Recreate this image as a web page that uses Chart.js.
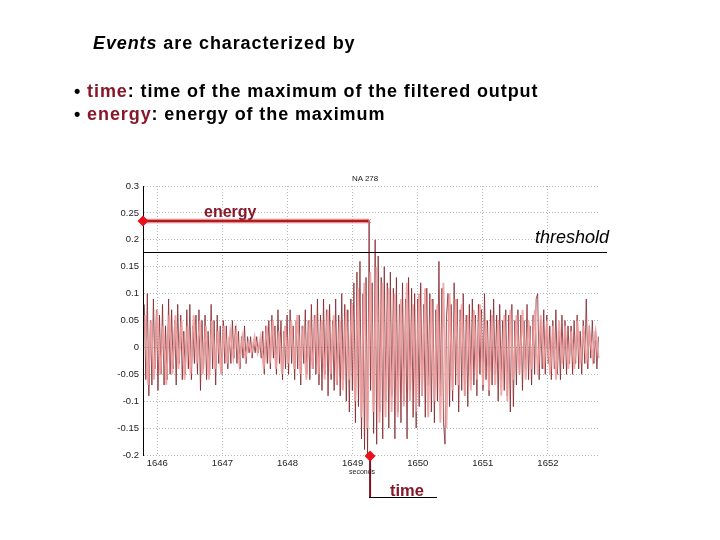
<!DOCTYPE html>
<html>
<head>
<meta charset="utf-8">
<script src="https://cdn.jsdelivr.net/npm/chart.js@4/dist/chart.umd.min.js"></script>
<style>
  html, body { margin:0; padding:0; background:#fff; }
  #wrap { position:relative; width:720px; height:540px; overflow:hidden; font-family:'Liberation Sans', Arial, sans-serif; }
  #c { position:absolute; left:0; top:0; }
  .t { position:absolute; white-space:nowrap; line-height:1; }
  .h { font-size:18px; font-weight:bold; letter-spacing:0.9px; }
  .red { color:#86182a; }
</style>
</head>
<body>
<div id="wrap">
  <canvas id="c" width="720" height="540"></canvas>
  <div class="t h" style="left:93px; top:34px;"><i>Events</i> are characterized by</div>
  <div class="t h" style="left:74px; top:82px;">• <span class="red">time</span>: time of the maximum of the filtered output</div>
  <div class="t h" style="left:74px; top:105px;">• <span class="red">energy</span>: energy of the maximum</div>
  <div class="t" style="left:352px; top:175px; font-size:8px; color:#222;">NA 278</div>
  <div class="t" style="left:349px; top:468px; font-size:7px; color:#222;">seconds</div>
  <div class="t red" style="left:204px; top:204px; font-size:16px; font-weight:bold;">energy</div>
  <div class="t" style="left:535px; top:228px; font-size:18px; font-style:italic;">threshold</div>
  <div class="t red" style="left:390px; top:482px; font-size:16.5px; font-weight:bold;">time</div>
</div>
<script>
// ---- data ----
const chartTitle = "NA 278";
const xLabel = "seconds";
const t0 = 1645.8;          // time of the first dark sample (s)
const dtDark = 0.02333;     // sampling step of the dark trace (s)
const darkValues = [
  0.08,-0.06,0.10,-0.09,0.05,-0.07,0.09,-0.04,0.07,-0.08,0.06,-0.05,0.08,-0.07,0.04,-0.06,0.09,-0.05,
  0.07,-0.04,0.05,-0.07,0.08,-0.03,0.06,-0.06,0.03,-0.05,0.07,-0.04,0.08,-0.06,0.04,-0.03,0.06,-0.05,0.07,-0.08,0.05,-0.04,0.06,-0.06,0.03,-0.05,0.08,-0.04,0.05,-0.07,0.06,-0.03,0.04,-0.05,
  0.05,-0.03,0.04,-0.04,0.02,-0.03,0.05,-0.02,0.04,-0.03,0.03,-0.04,0.02,-0.02,0.04,-0.03,0.02,
  -0.01,0.02,-0.02,0.01,-0.01,0.02,-0.01,0.01,-0.02,
  0.03,-0.05,0.04,-0.03,0.05,-0.04,0.06,-0.02,0.04,-0.05,0.07,-0.03,0.05,-0.06,0.03,-0.04,0.06,-0.05,0.07,-0.03,0.04,-0.06,0.05,-0.04,0.06,-0.07,0.04,-0.03,0.07,-0.05,0.05,-0.06,0.08,-0.04,0.06,-0.05,0.09,-0.07,
  0.06,-0.08,0.09,-0.05,0.07,-0.09,0.08,-0.06,0.05,-0.08,0.09,-0.07,0.06,-0.09,0.10,-0.06,0.08,-0.10,0.07,-0.12,0.09,-0.08,
  0.12,-0.14,0.14,-0.11,0.16,-0.17,0.10,-0.19,0.13,-0.20,
  0.235,
  -0.08,0.12,-0.16,0.20,-0.18,0.17,-0.12,0.13,-0.17,0.15,-0.10,0.12,
  -0.15,0.14,-0.09,0.11,-0.17,0.13,-0.12,0.08,-0.14,0.12,-0.10,0.09,-0.17,0.13,-0.08,0.11,-0.13,0.10,-0.15,0.09,-0.11,0.12,-0.09,0.08,-0.13,0.11,-0.07,0.10,-0.12,0.09,-0.14,0.07,-0.10,0.16,
  -0.09,0.11,-0.14,-0.18,0.06,0.10,-0.11,0.08,-0.10,0.12,-0.07,0.09,-0.12,0.07,-0.08,0.10,-0.09,0.06,-0.11,0.08,-0.06,
  0.09,-0.07,0.06,-0.09,0.08,-0.05,0.07,-0.08,0.10,-0.06,0.05,-0.09,0.07,-0.07,0.09,-0.05,0.06,-0.10,0.08,-0.06,0.05,-0.08,0.07,-0.09,0.06,-0.12,0.08,-0.11,0.05,-0.07,
  0.07,-0.05,0.06,-0.08,0.05,-0.04,0.08,-0.06,0.04,-0.07,0.06,-0.05,0.09,0.10,-0.06,0.05,-0.04,0.07,-0.05,0.06,-0.03,0.04,-0.06,0.05,-0.04,0.07,-0.05,0.03,-0.06,0.06,-0.04,0.05,-0.05,0.04,-0.03,
  0.04,-0.05,0.05,-0.03,0.06,-0.04,0.03,-0.05,0.05,-0.03,0.09,-0.04,0.04,-0.02,0.05,-0.03,0.03,-0.04,0.02
];
const dtLight = 0.04678;    // sampling step of the light trace (s)
const lightValues = [
  0.06,-0.07,0.05,-0.06,0.07,-0.05,0.04,-0.07,0.06,
  -0.05,0.06,-0.04,0.05,-0.06,0.04,-0.05,0.06,-0.03,0.05,-0.05,0.04,-0.06,0.05,-0.04,0.03,-0.05,
  0.04,-0.03,0.03,-0.02,0.03,-0.03,0.02,-0.02,0.01,-0.01,0.02,-0.01,0.02,
  -0.04,0.04,-0.03,0.05,-0.04,0.03,-0.05,0.04,-0.03,0.05,-0.04,0.06,-0.05,0.04,-0.06,0.05,-0.04,0.06,-0.05,
  0.05,-0.06,0.07,-0.05,0.06,-0.07,0.05,-0.08,0.07,-0.06,0.08,
  -0.10,0.11,-0.13,0.12,-0.15,0.14,-0.12,0.15,-0.14,0.12,-0.13,
  0.11,-0.12,0.10,-0.13,0.09,-0.11,0.12,-0.10,0.08,-0.12,0.10,-0.09,0.11,-0.13,0.09,-0.10,0.08,-0.14,0.12,-0.15,0.10,
  -0.08,0.09,-0.07,0.08,-0.09,0.06,-0.08,0.07,-0.06,0.08,-0.07,0.05,-0.08,0.06,-0.07,0.05,-0.09,0.06,-0.10,0.07,-0.06,
  0.06,-0.05,0.07,-0.06,0.05,-0.04,0.07,-0.05,0.06,-0.04,0.05,-0.05,0.04,-0.06,0.05,-0.03,0.04,
  -0.04,0.03,-0.04,0.05,-0.03,0.04,-0.03,0.03,-0.02,0.03,-0.02
];
const threshold = 0.177;
const xTicks = [1646, 1647, 1648, 1649, 1650, 1651, 1652];
const yTicks = [-0.2, -0.15, -0.1, -0.05, 0, 0.05, 0.1, 0.15, 0.2, 0.25, 0.3];
const xRange = [1645.78, 1652.8];
const yRange = [-0.2, 0.3];

// ---- build chart ----
const darkPts = darkValues.map((v, i) => ({ x: t0 + i * dtDark, y: v }));
const lightPts = lightValues.map((v, i) => ({ x: t0 + 0.01 + i * dtLight, y: v }));
let maxIdx = 0;
darkValues.forEach((v, i) => { if (v > darkValues[maxIdx]) maxIdx = i; });
const eventTime = darkPts[maxIdx].x;
const eventEnergy = darkPts[maxIdx].y;

function diamond(ctx, x, y, r, color) {
  ctx.beginPath();
  ctx.moveTo(x, y - r); ctx.lineTo(x + r, y); ctx.lineTo(x, y + r); ctx.lineTo(x - r, y);
  ctx.closePath(); ctx.fillStyle = color; ctx.fill();
}

const annot = {
  id: 'annot',
  afterDatasetsDraw(chart) {
    const { ctx, chartArea: ca, scales: { x, y } } = chart;
    const xe = x.getPixelForValue(eventTime);
    const ye = y.getPixelForValue(eventEnergy);
    const yt = y.getPixelForValue(threshold);
    ctx.save();
    ctx.strokeStyle = '#000'; ctx.lineWidth = 1;
    ctx.beginPath(); ctx.moveTo(ca.left, Math.round(yt) + 0.5); ctx.lineTo(ca.right + 7, Math.round(yt) + 0.5); ctx.stroke();
    ctx.strokeStyle = 'rgba(235,130,130,0.55)'; ctx.lineWidth = 5;
    ctx.beginPath(); ctx.moveTo(ca.left, ye); ctx.lineTo(xe, ye); ctx.stroke();
    ctx.strokeStyle = '#b01c22'; ctx.lineWidth = 2.5;
    ctx.beginPath(); ctx.moveTo(ca.left, ye); ctx.lineTo(xe, ye); ctx.stroke();
    diamond(ctx, ca.left, ye, 5.5, '#e8101a');
    ctx.strokeStyle = 'rgba(220,110,110,0.8)'; ctx.lineWidth = 1;
    ctx.beginPath(); ctx.moveTo(xe - 2, ye - 2); ctx.lineTo(xe + 2, ye + 2); ctx.moveTo(xe + 2, ye - 2); ctx.lineTo(xe - 2, ye + 2); ctx.stroke();
    const yb = ca.bottom + 1;
    ctx.strokeStyle = '#7a1020'; ctx.lineWidth = 2;
    ctx.beginPath(); ctx.moveTo(xe + 1, yb); ctx.lineTo(xe + 1, yb + 42); ctx.stroke();
    ctx.strokeStyle = '#000'; ctx.lineWidth = 1;
    ctx.beginPath(); ctx.moveTo(xe, yb + 41.5); ctx.lineTo(xe + 68, yb + 41.5); ctx.stroke();
    diamond(ctx, xe + 1, yb, 5.5, '#e8101a');
    ctx.restore();
  }
};

const fmt = v => String(+Number(v).toFixed(2));

new Chart(document.getElementById('c'), {
  type: 'line',
  data: {
    datasets: [
      { data: lightPts, borderColor: 'rgba(240,160,160,0.9)', borderWidth: 1.8, pointRadius: 0, tension: 0 },
      { data: darkPts, borderColor: 'rgba(130,38,44,0.8)', borderWidth: 1, pointRadius: 0, tension: 0 }
    ]
  },
  options: {
    responsive: false,
    animation: false,
    layout: { padding: { left: 103, top: 186, right: 120, bottom: 55 } },
    plugins: { legend: { display: false }, tooltip: { enabled: false } },
    scales: {
      x: {
        type: 'linear', min: xRange[0], max: xRange[1],
        afterFit: s => { s.height = 30; },
        afterBuildTicks: s => { s.ticks = xTicks.map(v => ({ value: v })); },
        grid: { color: '#b8b8b8', lineWidth: 1, drawTicks: false },
        border: { display: false, dash: [1, 2] },
        ticks: { padding: 3, color: '#222', font: { family: "'Liberation Sans', Arial, sans-serif", size: 9.5 }, callback: v => String(v), maxRotation: 0 }
      },
      y: {
        type: 'linear', min: yRange[0], max: yRange[1],
        afterFit: s => { s.width = 40; },
        afterBuildTicks: s => { s.ticks = yTicks.map(v => ({ value: v })); },
        grid: { color: '#b8b8b8', lineWidth: 1, drawTicks: false },
        border: { display: true, color: '#000', width: 1, dash: [1, 2] },
        ticks: { padding: 4, color: '#222', font: { family: "'Liberation Sans', Arial, sans-serif", size: 9.5 }, callback: v => fmt(v) }
      }
    }
  },
  plugins: [annot]
});
</script>
</body>
</html>
